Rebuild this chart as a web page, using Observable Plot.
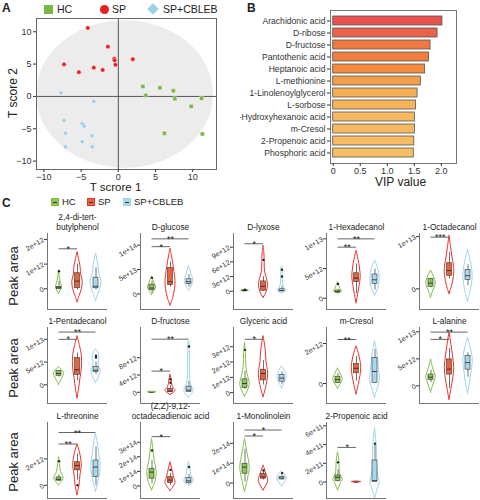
<!DOCTYPE html>
<html><head><meta charset="utf-8">
<script src="https://cdn.jsdelivr.net/npm/d3@7"></script>
<script src="https://cdn.jsdelivr.net/npm/@observablehq/plot@0.6"></script>
<style>
body{margin:0;background:#fff;font-family:"Liberation Sans",Arial,sans-serif;color:#222;}
#root{position:relative;width:480px;height:500px;overflow:hidden;}
.t{position:absolute;white-space:nowrap;}
.big{font-weight:bold;font-size:12px;}
.key{position:absolute;box-sizing:border-box;}
.rot{position:absolute;font-size:13px;transform:translate(-50%,-50%) rotate(-90deg);white-space:nowrap;}
</style></head><body><div id="root"></div>
<script>
// ---------- Panel A: PLS-DA scores ----------
const hcT1 = [3.3,5.6,7.4,3.7,7.6,11.2,9.8,6.2,11.3];
const hcT2 = [1.54,1.33,0.87,0.15,-0.36,-0.31,-1.54,-5.7,-5.8];
const spT1 = [-4.1,-1.4,-0.55,-0.5,1.95,-0.38,-7.3,-5.3,-3.3,-2.1];
const spT2 = [10.6,7.7,5.85,5.6,5.75,4.9,4.95,3.75,4.45,4.1];
const cbT1 = [-7.7,-3.3,-7.3,-4.85,-4.6,-7.1,-3.5,-4.85,-7.1,-3.5];
const cbT2 = [0.57,-0.77,-3.7,-4.2,-4.6,-5.7,-6.1,-7.0,-7.8,-7.8];
const ellipseParams = [0.9, 0.3, 11.9, 11.4]; // cx, cy, rx, ry

// ---------- Panel B: VIP ----------
const vipNames = ["Arachidonic acid","D-ribose","D-fructose","Pantothenic acid","Heptanoic acid","L-methionine","1-Linolenoylglycerol","L-sorbose","5-Hydroxyhexanoic acid","m-Cresol","2-Propenoic acid","Phosphoric acid"];
const vipValues = [2.02,1.93,1.80,1.77,1.70,1.62,1.56,1.53,1.51,1.51,1.50,1.49];

// ---------- Panel C: violins ----------
const groups = ["HC","SP","SP+CBLEB"];
const titles = ["2,4-di-tert-\nbutylphenol","D-glucose","D-lyxose","1-Hexadecanol","1-Octadecanol","1-Pentadecanol","D-fructose","Glyceric acid","m-Cresol","L-alanine","L-threonine","(Z,Z)-9,12-\noctadecadienoic acid","1-Monolinolein","2-Propenoic acid"];
const units = [1e12,1e13,1e12,1e12,1e12,1e12,1e12,1e12,1e12,1e12,1e12,1e14,1e14,1e11];
const tickVals = [[0,1,2],[0,5,10],[0,3,6,9],[0,5,10],[0,10],[0,5,10],[0,4,8],[0,1,2,3],[0,2],[0,5,10],[0,2],[0,1,2,3],[0,1,2],[0,2,4,6]];
const domains = [[-0.84,2.24],[-3.2,12.4],[-3.74,11.8],[-1.9,10.9],[-3.96,10.6],[-4.1,12.6],[-2.6,15],[-0.71,4.26],[-1.0,2.8],[-3.26,10.8],[-1.0,4.76],[-0.86,4.35],[-0.78,3.05],[-1.76,6.36]];
// violin profiles: [value, half-width]
const hcProfiles = [
 [[-0.2,0],[0.05,2.8],[0.3,1.5],[0.5,0.6],[0.75,0]],
 [[-0.2,0],[0.6,2.5],[1.3,4],[2.2,2.5],[3.0,1],[3.6,0]],
 [[0,0],[0.1,4],[0.3,0]],
 [[0.8,0],[1.1,4],[1.6,2.5],[2.2,1.2],[2.7,0]],
 [[-1.7,0],[-0.5,2],[1,4.7],[2.5,2.5],[3.5,0]],
 [[0,0],[1.3,3],[2.5,5],[3.2,3],[3.9,0]],
 [[-0.15,0],[0,4.5],[0.15,0]],
 [[-0.26,0],[0.5,4.7],[1.2,2.5],[1.8,1.2],[2.5,1.0],[3.26,0]],
 [[-0.25,0],[0.2,4.7],[0.5,2.5],[0.76,0]],
 [[-1.25,0],[0.3,2.5],[1.6,4.7],[3,2.5],[4.9,0]],
 [[0,0],[0.5,4.7],[1,2],[1.6,1],[2.13,0]],
 [[-0.3,0],[0.3,3.5],[0.95,4.7],[1.8,2.5],[2.6,1.2],[3.22,0]],
 [[-0.45,0],[0.2,3],[0.8,4.7],[1.5,2.5],[2.22,0]],
 [[-0.88,0],[0,3.5],[0.2,4.7],[0.9,2],[1.8,1.5],[2.5,1],[3.18,0]]
];
const spProfiles = [
 [[-0.55,0],[-0.3,2],[0,4.5],[0.3,5.2],[0.6,3.5],[0.85,3.2],[1.1,2],[1.48,0]],
 [[-2.4,0],[-1,2.5],[1,4.5],[2.5,5],[4.5,4],[6.5,2.5],[8,1.2],[9.3,0]],
 [[-1.35,0],[-0.5,2.5],[1.2,4.5],[2.5,3.5],[4,1.5],[6,1.2],[8,0.8],[9.3,0]],
 [[-0.85,0],[0.5,1.5],[2,3],[3.5,4.2],[5,3.5],[6.5,2],[8,0]],
 [[-1,0],[0.5,2.5],[2.5,4.5],[4,4.7],[6,3],[8,1.5],[10.2,0]],
 [[-3,0],[-1,1.5],[1.5,3],[4,4.5],[6.5,4.3],[8.5,2.5],[10.7,0]],
 [[-0.6,0],[0.3,5],[1,3],[2,1.5],[3,1],[4.1,0]],
 [[-0.3,0],[0.3,2.5],[1.2,4.7],[2,3],[2.8,2.2],[3.7,0]],
 [[-0.54,0],[0,2.5],[0.76,4.7],[1.4,2.8],[1.86,0]],
 [[-2.6,0],[-0.5,2],[1.5,3.8],[3.3,4.7],[5.5,3.5],[7.5,2],[9.9,0]],
 [[-0.75,0],[0,2],[0.8,3],[1.5,4.3],[2.3,3],[3.1,0]],
 [[-0.34,0],[0.2,5],[0.6,3.5],[1.2,1.5],[1.63,0]],
 [[-0.37,0],[0.1,4.7],[0.5,2.5],[0.89,0]],
 [[-0.06,0],[0,4.7],[0.06,0]]
];
const cbProfiles = [
 [[-0.5,0],[-0.25,2],[0.05,4.5],[0.3,5.5],[0.6,3.5],[0.9,2.5],[1.2,1.2],[1.42,0]],
 [[0.7,0],[1.5,2.5],[2.7,4.3],[4,2.5],[5,1.2],[5.8,0]],
 [[-0.4,0],[0.1,4.7],[0.6,2.5],[1.5,1],[3,0.8],[4.5,0.8],[5.05,0]],
 [[0.45,0],[1.5,3],[3.2,4.7],[4.8,3.5],[6.35,0]],
 [[-2.5,0],[-1,2],[1,4],[2.7,4.7],[4.5,3.5],[6,1.8],[7.5,0]],
 [[0.4,0],[1.5,2.5],[3,4.7],[4.5,2.5],[6,3.5],[7,2.5],[7.8,0]],
 [[-1.2,0],[0.3,4.7],[1.5,2.5],[3,1.2],[6,1],[9,0.8],[11,0.6],[11.9,0]],
 [[0.28,0],[0.7,3],[1.0,4.7],[1.4,3],[1.72,0]],
 [[-0.71,0],[-0.2,3],[0.1,4.7],[0.8,3.8],[1.5,2.3],[2.12,0]],
 [[-1.5,0],[0.5,2],[2.5,3.5],[4.2,4.7],[6,4],[7.5,2],[8.9,0]],
 [[-0.5,0],[0.3,2.5],[1.38,4.7],[2.5,3],[3.3,1.5],[3.9,0]],
 [[0,0],[0.3,4.7],[0.8,2],[1.3,1.2],[1.63,0]],
 [[-0.17,0],[0.23,4.7],[0.6,0]],
 [[-1.76,0],[-0.8,2.5],[0,4.7],[0.8,3],[1.5,2.2],[2.5,2],[3.5,1.8],[4.5,1.2],[5.76,0]]
];
// boxes: [whisker low, q1, median, q3, whisker high]
const hcBoxes = [[-0.02,0,0.04,0.08,0.3],[0.2,0.8,1.2,1.9,2.6],[0.05,0.08,0.1,0.15,0.2],[0.9,1.0,1.1,1.3,1.5],[0.2,0.4,1.1,1.9,2.0],[1.7,2.0,2.5,3.0,3.2],[0,0,0,0,0],[0.2,0.3,0.6,0.87,1.4],[0,0.03,0.2,0.34,0.5],[0.6,1.1,1.6,2.1,2.9],[0.3,0.35,0.45,0.6,0.8],[0.15,0.5,0.95,1.18,1.75],[0.05,0.47,0.8,0.97,1.7],[0,0.1,0.5,0.7,1.3]];
const spBoxes = [[-0.05,0.02,0.31,0.63,1.0],[1.4,1.8,2.5,5.3,6.6],[0,0.1,1.0,2.0,3.0],[0.8,2.7,3.4,4.2,5.8],[1.9,2.5,3.5,4.9,7.0],[0.9,2.2,3.3,5.9,7.0],[0,0.05,0.3,0.8,1.5],[0.5,0.8,1.25,1.5,2.1],[0.12,0.51,0.76,0.98,1.35],[-0.5,2.1,3.1,4.9,6.9],[0.4,1.13,1.5,1.75,2.38],[0.05,0.2,0.4,0.6,0.85],[0.15,0.22,0.3,0.47,0.55],[0,0,0,0,0]];
const cbBoxes = [[-0.05,0.02,0.1,0.45,0.85],[1.4,2.0,2.5,3.0,4.0],[0,0,0.1,0.4,1.0],[1.4,2.4,3.1,4.0,4.9],[0.6,1.7,2.5,3.6,4.6],[2.3,2.8,3.2,3.9,5.0],[0,0.05,0.5,1.3,2.5],[0.55,0.72,0.95,1.15,1.35],[0,0.03,0.6,1.27,1.7],[1.6,3.0,4.3,5.5,6.1],[0,0.63,1.38,1.88,2.9],[0.1,0.2,0.35,0.55,0.8],[0.15,0.18,0.25,0.3,0.4],[0,0.02,0.15,2.3,3.9]];
const hcOutliers = [[0.71],[3.3],[0.3],[2.4],[],[],[],[2.8],[],[],[1.83],[2.43],[],[2.1]];
const spOutliers = [[],[],[6.4],[],[],[],[2.2,3.0],[],[],[],[0],[1.1],[0.63],[]];
const cbOutliers = [[],[],[3.0,4.4],[],[],[6.0,6.4],[10.6],[],[],[],[],[1.3],[0.5],[4.1]];
// significance: [group a, group b, level, label]
const sigBars = [
 [[0,1,1.62,"*"]],
 [[0,1,9.7,"*"],[0,2,11.3,"**"]],
 [[0,1,9.7,"*"]],
 [[0,1,8.6,"**"],[0,2,10.0,"**"]],
 [[0,1,9.9,"***"]],
 [[0,1,10,"*"],[0,2,11.6,"**"]],
 [[0,1,4.9,"*"],[0,2,12.3,"**"]],
 [[0,1,3.49,"*"]],
 [[0,1,2.2,"**"]],
 [[0,1,8.6,"*"],[0,2,9.95,"**"]],
 [[0,1,3.13,"**"],[0,2,4.0,"**"]],
 [[0,1,3.38,"*"]],
 [[0,1,2.37,"*"],[0,2,2.67,"*"]],
 [[0,1,3.7,"*"]]
];

// ---------- styles / layout ----------
const FONT = "Liberation Sans, Arial, sans-serif";
const ptColors = ["#78b944","#e8211f","#9dd2ea"];
const vStroke = ["#7dbf45","#ec2f2c","#9fd3ea"];
const boxFill = ["#8cc653","#e4643c","#a9d8ee"];
const root = document.getElementById("root");
function place(el, left, top){ el.style.position="absolute"; el.style.left=left+"px"; el.style.top=top+"px"; root.appendChild(el); return el; }
function html(cls, text, left, top, extra){ const d=document.createElement("div"); d.className=cls; d.textContent=text; d.style.left=left+"px"; d.style.top=top+"px"; if(extra) Object.assign(d.style, extra); root.appendChild(d); return d; }

// ---------- Panel A ----------
const [ecx, ecy, erx, ery] = ellipseParams;
const ell = d3.range(-1, 1.00001, 0.01).map(t => ({x: ecx + erx*t, h: ery*Math.sqrt(Math.max(0,1-t*t))}));
const ptsA = [
  ...hcT1.map((v,i)=>({t1:v,t2:hcT2[i],g:0})),
  ...spT1.map((v,i)=>({t1:v,t2:spT2[i],g:1})),
  ...cbT1.map((v,i)=>({t1:v,t2:cbT2[i],g:2}))
];
const symA = ["square","circle","diamond2"];
const plotA = Plot.plot({
  width: 225, height: 197, marginLeft: 36, marginRight: 9, marginTop: 18, marginBottom: 28,
  style: {fontFamily: FONT, background: "transparent", color: "#333", overflow: "visible"},
  x: {domain: [-11, 13.2]}, y: {domain: [-11.3, 12.05]},
  marks: [
    Plot.areaY(ell, {x: "x", y1: d => ecy - d.h, y2: d => ecy + d.h, fill: "#ececec", curve: "linear", clip: true}),
    Plot.ruleX([0], {stroke: "#555", strokeWidth: 1}),
    Plot.ruleY([0], {stroke: "#555", strokeWidth: 1}),
    Plot.frame({stroke: "#666"}),
    ...[0,1,2].map(g => Plot.dot(ptsA.filter(d=>d.g===g), {x:"t1", y:"t2", symbol: () => symA[g], r: g===1?2.2:2.3, fill: ptColors[g], stroke: "#fff", strokeWidth: 0.4})),
    Plot.axisX({ticks: [-10,-5,0,5,10], tickSize: 3, tickPadding: 1, fontSize: 9, label: null}),
    Plot.axisY({ticks: [-10,-5,0,5,10], tickSize: 3, tickPadding: 2, fontSize: 9, label: null}),
    Plot.text(["T scrore 1"], {frameAnchor: "bottom", dy: 21, dx: -11, fontSize: 11.5, fill: "#222"})
  ]
});
place(plotA, 0, 0);
html("rot", "T score 2", 13, 93, {fontSize: "12px"});

// Panel A legend
const legA = [["HC",44,57],["SP",100,112],["SP+CBLEB",148,163]];
legA.forEach(([lab,kx,tx],g)=>{
  const k=document.createElement("div"); k.className="key";
  Object.assign(k.style,{left:kx+"px",top:"5px",width:"9px",height:"9px",background:ptColors[g]});
  if(g===1) k.style.borderRadius="50%";
  if(g===2){k.style.width="8px";k.style.height="8px";k.style.left=(kx+1)+"px";k.style.top="5px";k.style.transform="rotate(45deg)";}
  root.appendChild(k);
  html("t", lab, tx, 3, {fontSize:"10.5px"});
});
html("t big", "A", 2, 1);
html("t big", "B", 247, 1);
html("t big", "C", 2, 196);

// ---------- Panel B ----------
const vip = vipNames.map((n,i)=>({name:n, v:vipValues[i]}));
const plotB = Plot.plot({
  width: 240, height: 195, marginLeft: 90, marginRight: 24, marginTop: 10, marginBottom: 32,
  style: {fontFamily: FONT, background: "transparent", color: "#333", overflow: "hidden"},
  x: {domain: [-0.05, 2.28]},
  y: {domain: vipNames, paddingInner: 0.28, paddingOuter: 0.47},
  color: {type: "linear", domain: [1.49, 1.70, 2.02], range: ["#f7be64", "#f28b3b", "#e8524f"]},
  marks: [
    Plot.barX(vip, {x: "v", y: "name", fill: "v", stroke: "#555", strokeWidth: 0.8}),
    Plot.frame({stroke: "#777"}),
    Plot.axisY({tickSize: 3, tickPadding: 2, fontSize: 8.6, label: null}),
    Plot.axisX({ticks: [0,0.5,1,1.5,2], tickFormat: d => d===0 ? "0" : d.toFixed(1), tickSize: 3, tickPadding: 1, fontSize: 9, label: null}),
    Plot.text(["VIP value"], {frameAnchor: "bottom", dy: 22, dx: 7, fontSize: 12, fill: "#222"})
  ]
});
place(plotB, 240, 0);

// ---------- Panel C legend ----------
const legC = [["HC",51,62],["SP",87,98],["SP+CBLEB",123,134]];
legC.forEach(([lab,kx,tx],g)=>{
  const k=document.createElement("div"); k.className="key";
  Object.assign(k.style,{left:kx+"px",top:"198px",width:"8px",height:"8px",background:boxFill[g],border:"1px solid "+vStroke[g]});
  const m=document.createElement("div");
  Object.assign(m.style,{position:"absolute",left:"1px",right:"1px",top:"2.5px",height:"1px",background:"#333"});
  k.appendChild(m); root.appendChild(k);
  html("t", lab, tx, 196, {fontSize:"9.5px"});
});

// ---------- Panel C violins ----------
const cols = [46.7,140,233,326,419];
const rowTops = [233,326.5,422];
const PW=60, PH=76, ML=36, MT=26, MR=1, MB=2;
const centers = [11.5,30,48.5];
const profiles = [hcProfiles, spProfiles, cbProfiles];
const boxes = [hcBoxes, spBoxes, cbBoxes];
const outs = [hcOutliers, spOutliers, cbOutliers];

function violinPanel(i){
  const unit = units[i];
  const marks = [];
  [0,1,2].forEach(g => {
    const c = centers[g];
    const prof = profiles[g][i];
    const b = boxes[g][i];
    marks.push(Plot.areaX(prof, {y: d=>d[0], x1: d=>c-d[1], x2: d=>c+d[1], curve: "catmull-rom", fill: "white", stroke: vStroke[g], strokeWidth: 1}));
    marks.push(Plot.ruleX([b], {x: () => c, y1: d=>d[0], y2: d=>d[4], stroke: "#333", strokeWidth: 0.7}));
    marks.push(Plot.rect([b], {x1: () => c-2.5, x2: () => c+2.5, y1: d=>d[1], y2: d=>d[3], fill: boxFill[g], stroke: "#333", strokeWidth: 0.6}));
    marks.push(Plot.ruleY([b], {y: d=>d[2], x1: () => c-2.5, x2: () => c+2.5, stroke: "#222", strokeWidth: 0.8}));
    marks.push(Plot.dot(outs[g][i], {x: () => c, y: d=>d, r: 1.2, fill: "#222"}));
  });
  const sig = sigBars[i];
  marks.push(Plot.ruleY(sig, {y: d=>d[2], x1: d=>centers[d[0]], x2: d=>centers[d[1]], stroke: "#555", strokeWidth: 0.9}));
  marks.push(Plot.text(sig, {y: d=>d[2], x: d=>(centers[d[0]]+centers[d[1]])/2, text: d=>d[3], fontSize: 9, lineAnchor: "bottom", dy: 3, fill: "#222"}));
  marks.push(Plot.ruleX([0], {stroke: "#666", strokeWidth: 0.9}));
  marks.push(Plot.ruleY([domains[i][0]], {stroke: "#666", strokeWidth: 0.9}));
  marks.push(Plot.axisY({ticks: tickVals[i], tickFormat: t => t===0 ? "0" : (t*unit).toExponential(), tickRotate: -30, tickSize: 3, tickPadding: 1, fontSize: 7, label: null}));
  marks.push(Plot.text([titles[i]], {frameAnchor: "top", lineAnchor: "bottom", dy: -4, fontSize: 8.3, lineHeight: 1.1, fill: "#222"}));
  return Plot.plot({
    width: ML+PW+MR, height: MT+PH+MB, marginLeft: ML, marginRight: MR, marginTop: MT, marginBottom: MB,
    style: {fontFamily: FONT, background: "transparent", color: "#333", overflow: "visible"},
    x: {domain: [0, PW], axis: null},
    y: {domain: domains[i]},
    marks
  });
}
titles.forEach((t,i) => {
  const r = Math.floor(i/5), c = i%5;
  place(violinPanel(i), cols[c]-ML, rowTops[r]-MT);
});
[276, 368, 462].forEach(y => html("rot", "Peak area", 13, y));
</script></body></html>
